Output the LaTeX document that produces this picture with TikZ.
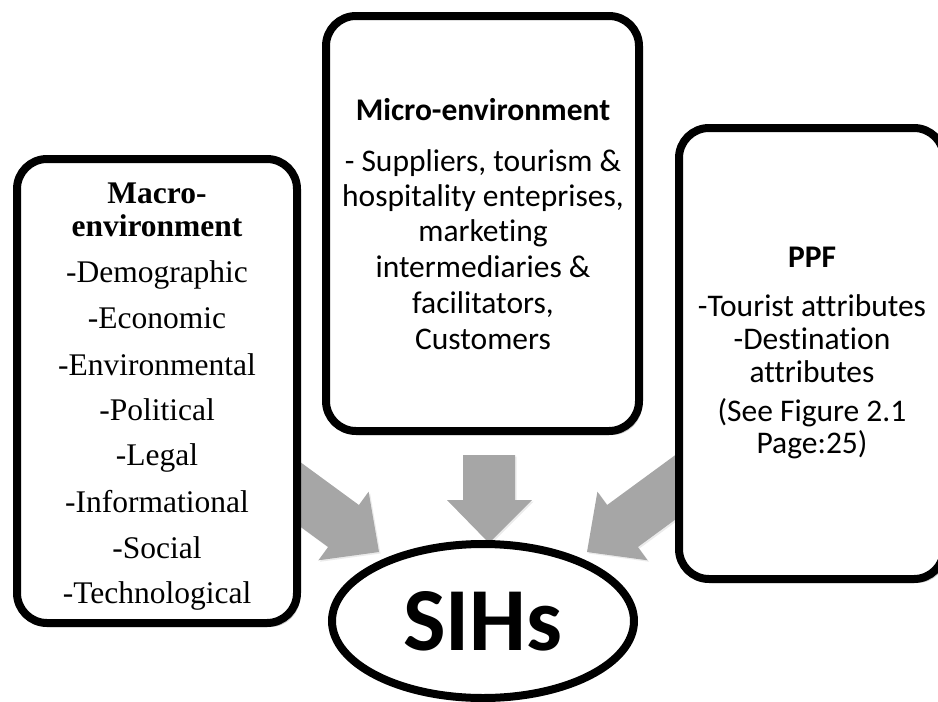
\documentclass[tikz,border=0pt]{standalone}
\usepackage{fontspec}
\setmainfont{Liberation Serif}
\newfontfamily\calfont[Ligatures=NoCommon]{Carlito}
\usetikzlibrary{shapes.geometric,shadows}
\definecolor{arrowgray}{HTML}{A6A6A6}
\tikzset{
  frame/.style={rectangle, draw=black, line width=8pt, fill=white, rounded corners=30pt, inner sep=0pt,
    drop shadow={shadow xshift=3pt, shadow yshift=-4pt, opacity=0.22, fill=black}},
  blockarrow/.style={fill=arrowgray,
    drop shadow={shadow xshift=1.5pt, shadow yshift=-1.5pt, opacity=0.08, fill=black}},
  oval/.style={ellipse, draw=black, line width=8pt, fill=white, inner sep=0pt,
    font=\calfont\bfseries\fontsize{90}{90}\selectfont},
  serifline/.style={anchor=base, inner sep=0pt, font=\fontsize{31.5}{33}\selectfont},
  seriftitle/.style={serifline, font=\fontsize{31.5}{33}\selectfont\bfseries},
  calline/.style={anchor=base, inner sep=0pt, font=\calfont\fontsize{31.5}{34}\selectfont},
  caltitle/.style={calline, font=\calfont\fontsize{31.5}{34}\selectfont\bfseries},
}
\begin{document}
\begin{tikzpicture}[x=1pt,y=-1pt]
\useasboundingbox (0,0) rectangle (938,702);

% block arrows
\path[blockarrow] (262.1,434.1) -- (358.9,505.0) -- (368.6,491.7) -- (379,552)
  -- (318.4,560.3) -- (328.1,547.0) -- (231.4,476.1) -- cycle;
\path[blockarrow] (703.9,434.1) -- (607.1,505.0) -- (597.4,491.7) -- (587,552)
  -- (647.6,560.3) -- (637.9,547.0) -- (734.6,476.1) -- cycle;
\path[blockarrow] (463,455) -- (515,455) -- (515,500) -- (532,500) -- (489,543)
  -- (447,500) -- (463,500) -- cycle;

% boxes
\node[frame, minimum width=280pt, minimum height=464pt] (macro) at (157,391) {};
\node[frame, minimum width=313pt, minimum height=415pt] (micro) at (482.5,223.5) {};
\node[frame, minimum width=265pt, minimum height=451pt] (ppf) at (811.5,353.5) {};
\node[oval, minimum width=302pt, minimum height=154pt] (sihs) at (483,621) {SIHs};

% left text
\node[seriftitle] (m1) at (157,203) {Macro-};
\node[seriftitle] (m2) at (157,236) {environment};
\foreach \t/\yy [count=\i] in {-Demographic/282, -Economic/328, -Environmental/375,
    -Political/420, -Legal/465, -Informational/512, -Social/558, -Technological/603}
  \node[serifline] (mb\i) at (157,\yy) {\t};

% middle text
\node[caltitle] (c1) at (483,120) {Micro-environment};
\node[calline] (c2) at (483,171) {- Suppliers, tourism \&};
\node[calline] (c3) at (483,206) {hospitality enteprises,};
\node[calline] (c4) at (483,241) {marketing};
\node[calline] (c5) at (483,277) {intermediaries \&};
\node[calline] (c6) at (483,313) {facilitators,};
\node[calline] (c7) at (483,349) {Customers};

% right text
\node[caltitle] (p1) at (812,267) {PPF};
\node[calline] (p2) at (812,316) {-Tourist attributes};
\node[calline] (p3) at (812,349) {-Destination};
\node[calline] (p4) at (812,382) {attributes};
\node[calline] (p5) at (812,421) {(See Figure 2.1};
\node[calline] (p6) at (812,453) {Page:25)};
\end{tikzpicture}
\end{document}
